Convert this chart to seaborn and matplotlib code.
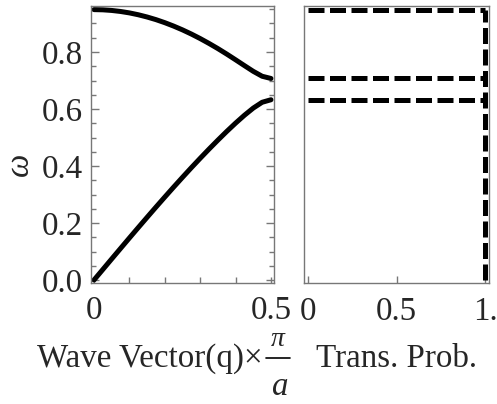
import matplotlib
matplotlib.use("Agg")
import matplotlib.pyplot as plt
from matplotlib.lines import Line2D
import seaborn as sns
import pandas as pd

# Dispersion of the diatomic chain: wave vector in units of pi/a
q = [0.0, 0.025, 0.05, 0.075, 0.1, 0.125, 0.15, 0.175, 0.2, 0.225, 0.25,
     0.275, 0.3, 0.325, 0.35, 0.375, 0.4, 0.425, 0.45, 0.475, 0.5]
omega_optical = [0.9487, 0.9480, 0.9458, 0.9422, 0.9372, 0.9307, 0.9228,
                 0.9136, 0.9029, 0.8909, 0.8776, 0.8630, 0.8471, 0.8300,
                 0.8119, 0.7927, 0.7726, 0.7522, 0.7321, 0.7149, 0.7071]
omega_acoustic = [0.0, 0.0370, 0.0740, 0.1108, 0.1475, 0.1839, 0.2200,
                  0.2558, 0.2911, 0.3260, 0.3603, 0.3941, 0.4271, 0.4594,
                  0.4908, 0.5213, 0.5505, 0.5781, 0.6033, 0.6236, 0.6325]

# Transmission probability: band edges and full transmission inside bands
band_edges = [0.6325, 0.7071, 0.9487]
trans_full = 1.0

left_xticks = [0.0, 0.1, 0.2, 0.3, 0.4, 0.5]
left_xticklabels = ["0", "", "", "", "", "0.5"]
left_yticks = [0.0, 0.2, 0.4, 0.6, 0.8]
left_yticklabels = ["0.0", "0.2", "0.4", "0.6", "0.8"]
right_xticks = [0.0, 0.5, 1.0]
right_xticklabels = ["0", "0.5", "1."]

sns.set_theme(style="white")
plt.rcParams["font.family"] = ["Liberation Serif", "DejaVu Serif"]
plt.rcParams["mathtext.fontset"] = "custom"
plt.rcParams["mathtext.rm"] = "Liberation Serif"
plt.rcParams["mathtext.it"] = "Liberation Serif:italic"
plt.rcParams["mathtext.bf"] = "Liberation Serif:bold"

W, H = 497, 404
fig = plt.figure(figsize=(W / 100, H / 100), dpi=100)
fig.patch.set_facecolor("white")


def box(x0, y0, x1, y1):
    return [x0 / W, 1 - y1 / H, (x1 - x0) / W, (y1 - y0) / H]


ax1 = fig.add_axes(box(91, 6, 274, 283))
ax2 = fig.add_axes(box(304, 6, 489, 283))

FS = 23.8
frame_col = "#777777"
LW = 3.6

disp = pd.DataFrame({"q": q, "optical": omega_optical, "acoustic": omega_acoustic})
sns.lineplot(data=disp, x="q", y="optical", ax=ax1, color="black", lw=LW)
sns.lineplot(data=disp, x="q", y="acoustic", ax=ax1, color="black", lw=LW)

ax1.set_xlim(-0.0085, 0.5085)
ax1.set_ylim(-0.0105, 0.9614)
ax1.set_xticks(left_xticks)
ax1.set_xticklabels(left_xticklabels)
ax1.set_yticks(left_yticks)
ax1.set_yticklabels(left_yticklabels)
ax1.set_yticks([i * 0.05 for i in range(20)], minor=True)
ax1.tick_params(axis="y", which="both", direction="in", left=True, right=True,
                color=frame_col, width=1.0)
ax1.tick_params(axis="y", which="major", length=6, labelsize=FS, pad=6)
ax1.tick_params(axis="y", which="minor", length=3.6)
ax1.tick_params(axis="x", which="major", direction="in", bottom=True, top=False,
                length=4.5, color=frame_col, width=1.0, labelsize=FS, pad=9)
ax1.set_xlabel("")
ax1.set_ylabel("")

# Transmission panel: dashed step outline
dash = (3.2, 1.1)
for e in band_edges:
    ax2.plot([0.0, trans_full], [e, e], color="black", lw=LW, dashes=dash)
ax2.plot([trans_full, trans_full], [0.0, max(band_edges)], color="black",
         lw=LW, dashes=dash)

ax2.set_xlim(-0.0243, 1.0226)
ax2.set_ylim(-0.0105, 0.9614)
ax2.set_xticks(right_xticks)
ax2.set_xticklabels(right_xticklabels)
ax2.set_yticks([])
ax2.tick_params(axis="x", which="major", direction="in", bottom=True, top=False,
                length=5, color=frame_col, width=1.0, labelsize=FS, pad=9.5)

for ax in (ax1, ax2):
    ax.set_facecolor("white")
    for s in ax.spines.values():
        s.set_visible(True)
        s.set_color(frame_col)
        s.set_linewidth(1.0)


def fx(x):
    return x / W


def fy(y):
    return 1 - y / H


# Axis labels
fig.text(fx(20), fy(164), "ω", rotation=90, ha="center", va="center",
         fontsize=FS, fontstyle="italic")
fig.text(fx(263), fy(367), "Wave Vector(q)×", ha="right", va="baseline",
         fontsize=FS)
fig.text(fx(278), fy(346), r"$\pi$", ha="center", va="baseline", fontsize=20)
fig.add_artist(Line2D([fx(266), fx(290)], [fy(358), fy(358)],
                      transform=fig.transFigure, color="black", lw=1.2))
fig.text(fx(280), fy(395), r"$a$", ha="center", va="baseline", fontsize=FS)
fig.text(fx(397), fy(367), "Trans. Prob.", ha="center", va="baseline",
         fontsize=FS)

fig.savefig("out.png", dpi=100, facecolor="white")
